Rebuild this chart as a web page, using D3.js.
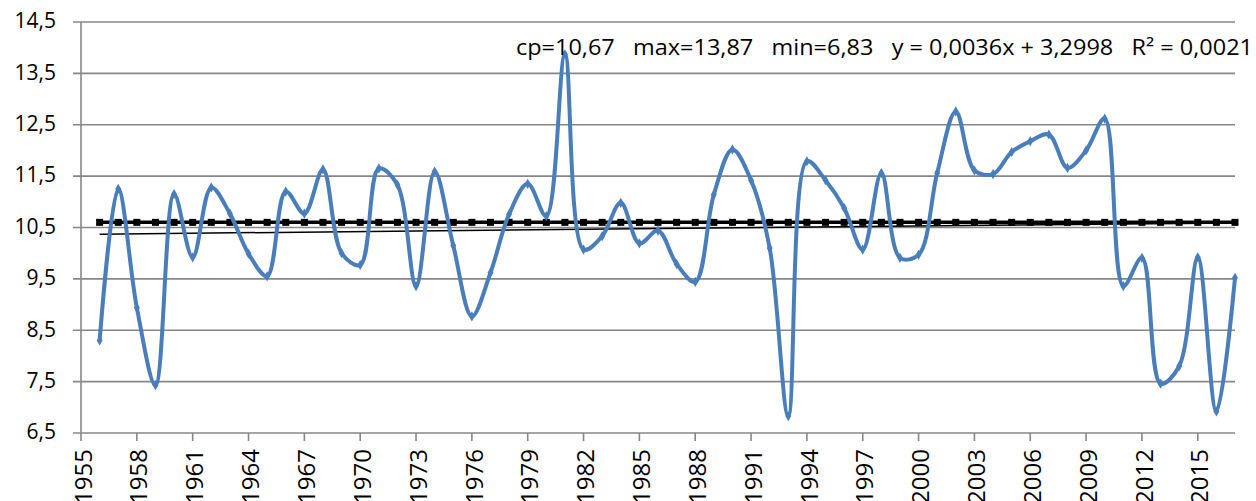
<!DOCTYPE html>
<html>
<head>
<meta charset="utf-8">
<script src="https://cdn.jsdelivr.net/npm/d3@7"></script>
<style>
  body { margin: 0; background: #fff; }
  text { font-family: "Open Sans", sans-serif; fill: #000; }
</style>
</head>
<body>
<div id="chart"></div>
<script>
// years and values
var years = d3.range(1956, 2018);
var values = [
  8.30, 11.25, 8.94, 7.43, 11.15, 9.92, 11.28, 10.77, 9.99, 9.55,
  11.20, 10.77, 11.63, 10.00, 9.77, 11.65, 11.33, 9.36, 11.59, 10.15,
  8.77, 9.62, 10.76, 11.35, 10.72, 13.87, 10.07, 10.33, 10.98, 10.19,
  10.44, 9.79, 9.44, 11.14, 12.02, 11.42, 10.10, 6.83, 11.79, 11.42,
  10.88, 10.07, 11.56, 9.91, 9.97, 11.56, 12.76, 11.61, 11.54, 11.97,
  12.18, 12.31, 11.66, 12.00, 12.62, 9.36, 9.91, 7.46, 7.80, 9.92,
  6.92, 9.52
];
var meanValue = 10.6;
var trendYears = [1956, 2017];
var trendValues = [10.37, 10.59];
var yTicks = [6.5, 7.5, 8.5, 9.5, 10.5, 11.5, 12.5, 13.5, 14.5];
var xTicks = d3.range(1955, 2016, 3);
var note = "cp=10,67   max=13,87   min=6,83   y = 0,0036x + 3,2998   R\u00b2 = 0,0021";

var WIDTH = 1256, HEIGHT = 501;
var plotLeft = 81, plotRight = 1235, plotTop = 22, plotBottom = 433;

var svg = d3.select("#chart").append("svg")
    .attr("width", WIDTH)
    .attr("height", HEIGHT);

var x = d3.scaleLinear().domain([1955, 2017]).range([plotLeft, plotRight]);
var y = d3.scaleLinear().domain([6.5, 14.5]).range([plotBottom, plotTop]);

var fmt = d3.formatLocale({decimal: ",", thousands: " ", grouping: [3], currency: ["", ""]}).format(".1f");

// gridlines
svg.append("g")
    .selectAll("line")
    .data(yTicks)
    .enter().append("line")
    .attr("x1", plotLeft - 8)
    .attr("x2", plotRight)
    .attr("y1", function(d) { return y(d); })
    .attr("y2", function(d) { return y(d); })
    .attr("stroke", "#878787")
    .attr("stroke-width", 1.6);

// y axis line
svg.append("line")
    .attr("x1", plotLeft).attr("x2", plotLeft)
    .attr("y1", plotTop).attr("y2", plotBottom)
    .attr("stroke", "#878787")
    .attr("stroke-width", 1.6);

// x tick marks
svg.append("g")
    .selectAll("line")
    .data(xTicks)
    .enter().append("line")
    .attr("x1", function(d) { return x(d); })
    .attr("x2", function(d) { return x(d); })
    .attr("y1", plotBottom)
    .attr("y2", plotBottom + 8)
    .attr("stroke", "#878787")
    .attr("stroke-width", 1.6);

// y labels
svg.append("g")
    .selectAll("text")
    .data(yTicks)
    .enter().append("text")
    .attr("x", 56)
    .attr("y", function(d) { return y(d); })
    .attr("dy", "0.3em")
    .attr("text-anchor", "end")
    .style("font-size", "21px")
    .text(fmt);

// x labels, rotated
svg.append("g")
    .selectAll("text")
    .data(xTicks)
    .enter().append("text")
    .attr("transform", function(d) { return "translate(" + (x(d) + 2) + ",449) rotate(-90)"; })
    .attr("dy", "0.36em")
    .attr("text-anchor", "end")
    .style("font-size", "24px")
    .text(function(d) { return d; });

// trend line
svg.append("line")
    .attr("x1", x(trendYears[0])).attr("x2", x(trendYears[1]))
    .attr("y1", y(trendValues[0])).attr("y2", y(trendValues[1]))
    .attr("stroke", "#000")
    .attr("stroke-width", 1.5);

// mean line with square markers
svg.append("path")
    .datum(years)
    .attr("fill", "none")
    .attr("stroke", "#000")
    .attr("stroke-width", 3.5)
    .attr("d", d3.line().x(function(d) { return x(d); }).y(function() { return y(meanValue); }));

svg.append("g")
    .selectAll("rect")
    .data(years)
    .enter().append("rect")
    .attr("x", function(d) { return x(d) - 3.5; })
    .attr("y", y(meanValue) - 3.5)
    .attr("width", 7)
    .attr("height", 7)
    .attr("fill", "#000");

// data series, smoothed
var series = years.map(function(d, i) { return [d, values[i]]; });

svg.append("path")
    .datum(series)
    .attr("fill", "none")
    .attr("stroke", "#4a7ebb")
    .attr("stroke-width", 4)
    .attr("stroke-linejoin", "round")
    .attr("d", d3.line()
        .x(function(d) { return x(d[0]); })
        .y(function(d) { return y(d[1]); })
        .curve(d3.curveCatmullRom.alpha(0.5)));

svg.append("g")
    .selectAll("path")
    .data(series)
    .enter().append("path")
    .attr("transform", function(d) { return "translate(" + x(d[0]) + "," + y(d[1]) + ")"; })
    .attr("d", d3.symbol().type(d3.symbolDiamond).size(30))
    .attr("fill", "#4a7ebb");

// annotation
svg.append("text")
    .attr("x", 516)
    .attr("y", 55)
    .attr("textLength", 737)
    .attr("lengthAdjust", "spacingAndGlyphs")
    .style("font-size", "21px")
    .style("white-space", "pre")
    .text(note);
</script>
</body>
</html>
